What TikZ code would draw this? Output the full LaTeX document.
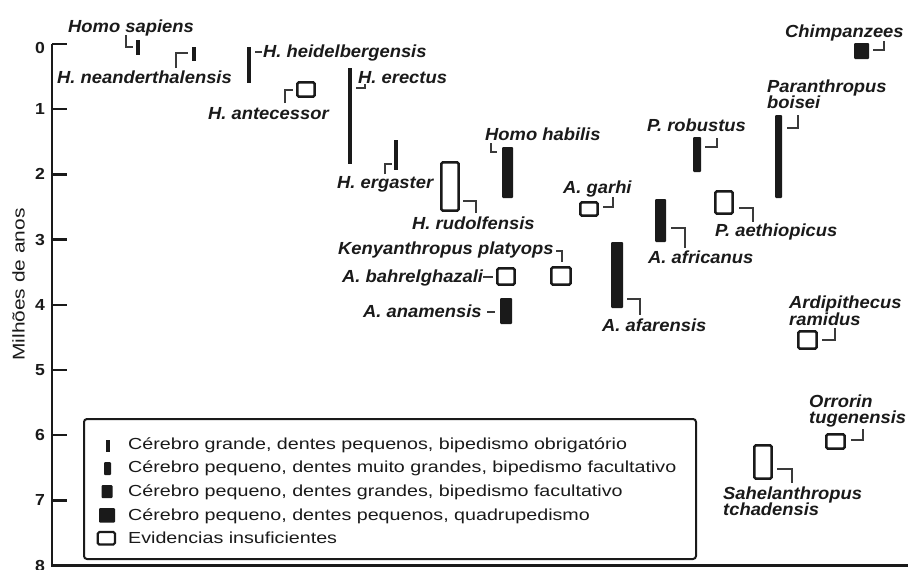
\documentclass[tikz,border=0pt]{standalone}
\usepackage{fontspec}
\setmainfont{Liberation Sans}
\newfontfamily\legfont[FakeStretch=1.23]{Liberation Sans}
\newfontfamily\spfont[FakeStretch=1.05]{Liberation Sans}
\newfontfamily\tickfont[FakeStretch=1.1]{Liberation Sans}
\definecolor{ink}{HTML}{1A1A1A}
\definecolor{lead}{HTML}{3A3A3A}
\tikzset{
  sp/.style={inner sep=0pt, anchor=base west, text=ink, font=\spfont\bfseries\itshape\fontsize{17.5}{18}\selectfont},
  leg/.style={inner sep=0pt, anchor=base west, text=ink, font=\legfont\fontsize{16}{18}\selectfont},
  ticklab/.style={inner sep=0pt, anchor=east, text=ink, font=\tickfont\bfseries\fontsize{16}{18}\selectfont},
  thinbar/.style={draw=ink, line width=3.5pt, line cap=butt},
  solidbar/.style={fill=ink, rounded corners=1pt},
  openbox/.style={draw=ink, line width=2.5pt, rounded corners=1.5pt},
  leader/.style={draw=lead, line width=1.4pt},
  axisline/.style={draw=ink, line width=2.4pt}
}
\begin{document}
\begin{tikzpicture}[x=1pt,y=-1pt]
\useasboundingbox (0,0) rectangle (908,570);
\fill[white] (0,0) rectangle (908,570);

% axes
\draw[axisline] (52,44) -- (52,565.6) -- (908,565.6);
\foreach \t in {0,...,7} {
  \draw[axisline] (52,{44+65.2*\t}) -- (67,{44+65.2*\t});
}
\foreach \t in {1,...,8} {
  \node[ticklab] (tick\t) at (45,{44+65.2*\t}) {\t};
}
\node[ticklab] (tick0) at (45,47.5) {0};
\node[inner sep=0pt, rotate=90, text=ink, font=\legfont\fontsize{17}{18}\selectfont] (ylab) at (18.5,284.5) {Milhões de anos};

% thin bars (large brain)
\draw[thinbar] (138,40) -- (138,55);
\draw[thinbar] (194,47) -- (194,61);
\draw[thinbar] (249,47) -- (249,83);
\draw[thinbar] (350,68) -- (350,164);
\draw[thinbar] (396,140) -- (396,170);

% solid bars
\fill[solidbar] (502,147) rectangle (513,198);
\fill[solidbar] (500,298) rectangle (512,324);
\fill[solidbar] (611,242) rectangle (623,308);
\fill[solidbar] (655,199) rectangle (666,242);
\fill[solidbar] (693,137) rectangle (701,172);
\fill[solidbar] (775,115) rectangle (782,198);
\fill[solidbar] (854,43) rectangle (869,59);

% open boxes
\draw[openbox] (297.3,82.3) rectangle (314.7,96.7);
\draw[openbox] (441.3,162.3) rectangle (458.7,210.7);
\draw[openbox] (580.3,202.3) rectangle (597.7,215.7);
\draw[openbox] (551.3,267.3) rectangle (570.7,284.7);
\draw[openbox] (497.3,268.3) rectangle (514.7,284.7);
\draw[openbox] (715.3,191.3) rectangle (732.7,213.7);
\draw[openbox] (798.3,331.3) rectangle (816.7,348.7);
\draw[openbox] (826.3,434.3) rectangle (844.7,448.7);
\draw[openbox] (754.3,445.3) rectangle (771.7,478.7);

% leaders
\draw[leader] (126,35) -- (126,47) -- (133,47);
\draw[leader] (176,68) -- (176,53) -- (188,53);
\draw[leader] (255,52) -- (262,52);
\draw[leader] (285,103) -- (285,90) -- (293,90);
\draw[leader] (356,88) -- (365,88) -- (365,84);
\draw[leader] (385,174) -- (385,164) -- (392,164);
\draw[leader] (463,201) -- (476,201) -- (476,213);
\draw[leader] (491,143) -- (491,152) -- (497,152);
\draw[leader] (603,207) -- (613,207) -- (613,197);
\draw[leader] (556,251) -- (562,251) -- (562,262);
\draw[leader] (483,277) -- (493,277);
\draw[leader] (487,312) -- (495,312);
\draw[leader] (627,299) -- (640,299) -- (640,315);
\draw[leader] (671,228) -- (685,228) -- (685,248);
\draw[leader] (705,147) -- (717,147) -- (717,138);
\draw[leader] (739,208) -- (753,208) -- (753,222);
\draw[leader] (787,128) -- (798,128) -- (798,115);
\draw[leader] (873,50) -- (884,50) -- (884,41);
\draw[leader] (822,340) -- (835,340) -- (835,328);
\draw[leader] (851,440) -- (863,440) -- (863,429);
\draw[leader] (777,469) -- (792,469) -- (792,483);

% species labels
\node[sp] (sapiens) at (68,32.5) {Homo sapiens};
\node[sp] (neander) at (57,83) {H. neanderthalensis};
\node[sp] (heidel) at (263,57) {H. heidelbergensis};
\node[sp] (erectus) at (358,83) {H. erectus};
\node[sp] (antec) at (208,119) {H. antecessor};
\node[sp] (ergaster) at (337,188) {H. ergaster};
\node[sp] (habilis) at (485,140) {Homo habilis};
\node[sp] (rudolf) at (412,229) {H. rudolfensis};
\node[sp] (garhi) at (563,193) {A. garhi};
\node[sp] (kenya) at (338,254) {Kenyanthropus platyops};
\node[sp] (bahrel) at (342,282) {A. bahrelghazali};
\node[sp] (anam) at (363,317) {A. anamensis};
\node[sp] (afar) at (602,331) {A. afarensis};
\node[sp] (chimp) at (785,37) {Chimpanzees};
\node[sp] (boisei1) at (767,92) {Paranthropus};
\node[sp] (boisei2) at (767,108) {boisei};
\node[sp] (robust) at (647,131) {P. robustus};
\node[sp] (aethiop) at (715,236) {P. aethiopicus};
\node[sp] (african) at (648,263) {A. africanus};
\node[sp] (ardi1) at (789,308) {Ardipithecus};
\node[sp] (ardi2) at (789,325) {ramidus};
\node[sp] (orro1) at (809,407) {Orrorin};
\node[sp] (orro2) at (809,423) {tugenensis};
\node[sp] (sahel1) at (723,499) {Sahelanthropus};
\node[sp] (sahel2) at (723,515) {tchadensis};

% legend
\draw[draw=ink, line width=2pt, rounded corners=3pt] (84,419) rectangle (696,559);
\fill[ink] (106,440) rectangle (109.5,452);
\fill[solidbar] (104,462) rectangle (111,475);
\fill[solidbar] (101.5,485) rectangle (112.5,498);
\fill[solidbar] (99,508) rectangle (115,522.5);
\draw[openbox, line width=2.2pt] (97.8,532) rectangle (114.9,544.5);
\node[leg] (leg1) at (128,449) {Cérebro grande, dentes pequenos, bipedismo obrigatório};
\node[leg] (leg2) at (128,472.5) {Cérebro pequeno, dentes muito grandes, bipedismo facultativo};
\node[leg] (leg3) at (128,496) {Cérebro pequeno, dentes grandes, bipedismo facultativo};
\node[leg] (leg4) at (128,520) {Cérebro pequeno, dentes pequenos, quadrupedismo};
\node[leg] (leg5) at (128,543) {Evidencias insuficientes};
\end{tikzpicture}
\end{document}
